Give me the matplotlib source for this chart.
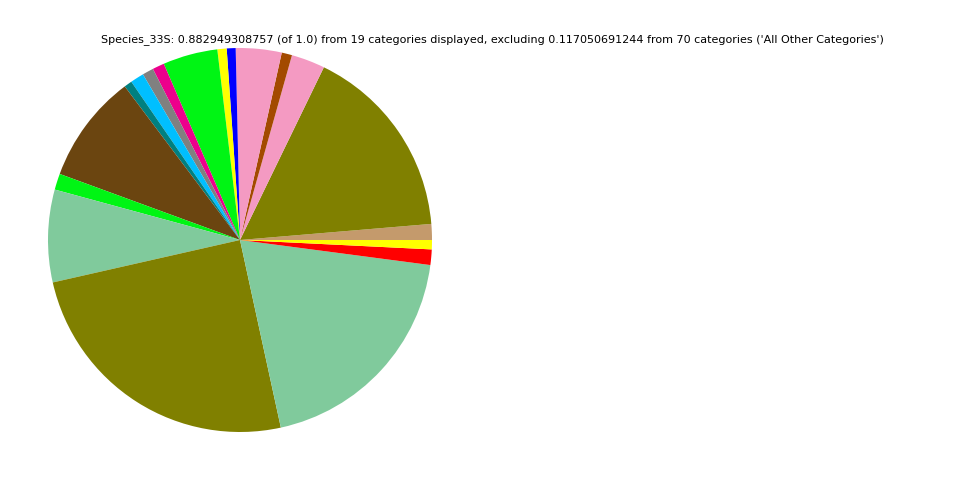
import matplotlib
matplotlib.use("Agg")
import matplotlib.pyplot as plt

# slice fractions (of 1.0), counterclockwise from 3 o'clock
values = [0.0118, 0.1454, 0.0250, 0.0077, 0.0340, 0.0066, 0.0069, 0.0407,
          0.0088, 0.0083, 0.0101, 0.0059, 0.0809, 0.0120, 0.0687, 0.2195,
          0.1722, 0.0115, 0.0069]
colors = ["#c49a6c", "#808000", "#f49ac2", "#a34a00", "#f49ac2", "#0000ff",
          "#ffff00", "#00f514", "#ec008c", "#808080", "#00bfff", "#008080",
          "#6b4510", "#00f514", "#80ca9c", "#808000", "#80ca9c", "#ff0000",
          "#ffff00"]
title = ("Species_33S: 0.882949308757 (of 1.0) from 19 categories displayed, "
         "excluding 0.117050691244 from 70 categories ('All Other Categories')")


def main() -> None:
    fig = plt.figure(figsize=(9.6, 4.8), dpi=100)
    ax = fig.add_axes([48 / 960, 48 / 480, 384 / 960, 384 / 480])
    ax.pie(values, colors=colors, normalize=True)
    ax.set_xlim(-1, 1)
    ax.set_ylim(-1, 1)
    ax.set_aspect("equal")
    ax.axis("off")
    fig.text(492 / 960, 1 - 40 / 480, title, ha="center", va="center", fontsize=8)
    fig.savefig("out.png", dpi=100)
    plt.close(fig)


if __name__ == "__main__":
    main()
